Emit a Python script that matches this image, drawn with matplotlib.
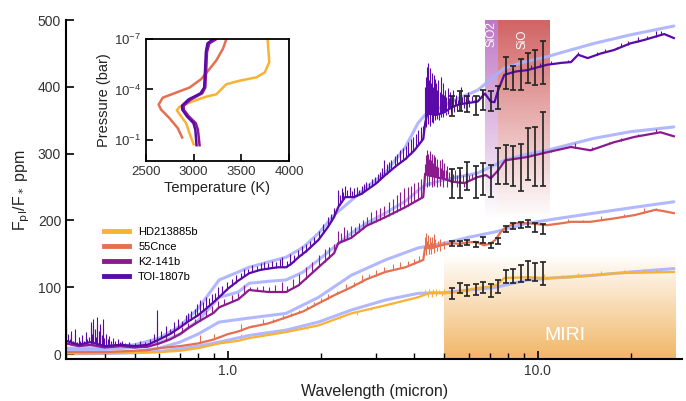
import numpy as np
import matplotlib
matplotlib.use("Agg")
import matplotlib.pyplot as plt
from matplotlib.ticker import NullFormatter, FixedLocator

plt.rcParams['font.family'] = ['Liberation Sans', 'DejaVu Sans']

# colours of the four planets
planets = ["HD213885b", "55Cnce", "K2-141b", "TOI-1807b"]
colors = {"HD213885b": "#f9b233", "55Cnce": "#e66f50",
          "K2-141b": "#8c1a8f", "TOI-1807b": "#5a0aa8"}
bb_color = "#a9b1ff"

# ---- emission spectra (micron, ppm) ----
toi_w = [0.30, 0.33, 0.36, 0.40, 0.45, 0.50, 0.55, 0.60, 0.65, 0.70, 0.75, 0.80,
         0.85, 0.90, 0.95, 1.00, 1.08, 1.17, 1.27, 1.35, 1.45, 1.54, 1.60, 1.69,
         1.80, 1.96, 2.10, 2.20, 2.27, 2.39, 2.55, 2.70, 3.00, 3.22, 3.50, 3.74,
         4.00, 4.27, 4.33, 4.40, 4.70, 5.00, 5.30, 5.60, 6.00, 6.40, 6.75, 7.05,
         7.25, 7.45, 7.80, 8.50, 9.25, 10.7, 12.0, 12.8, 13.5, 14.5, 16.0, 17.6,
         19.9, 22.0, 25.6, 27.5]
toi_v = [20, 14, 18, 12, 14, 12, 14, 22, 30, 40, 50, 58,
         68, 78, 88, 98, 110, 121, 126, 128, 130, 130, 135, 145,
         155, 171, 190, 205, 220, 235, 235, 240, 255, 268, 282, 292,
         305, 322, 345, 360, 358, 362, 370, 374, 376, 378, 390, 378,
         377, 395, 418, 423, 425, 433, 436, 437, 448, 443, 450, 455,
         465, 470, 479, 473]
toi_spike_w = [0.301, 0.304, 0.308, 0.312, 0.316, 0.320, 0.325, 0.330, 0.334, 0.338,
               0.343, 0.348, 0.352, 0.357, 0.361, 0.364, 0.367, 0.371, 0.375, 0.379,
               0.383, 0.387, 0.391, 0.395, 0.399, 0.404, 0.409, 0.414, 0.420, 0.426,
               0.432, 0.440, 0.448, 0.456, 0.465, 0.480, 0.50, 0.52, 0.54, 0.56,
               0.575, 0.59, 0.61, 0.63, 0.65, 0.67, 0.69, 0.71, 0.73, 0.745,
               0.76, 0.78, 0.795, 0.81, 0.83, 0.85, 0.87, 0.89, 0.91, 0.93,
               0.96, 0.99, 1.03, 1.06, 1.10, 1.13, 1.16, 1.20, 1.24, 1.28,
               1.31, 1.35, 1.39, 1.43, 1.47, 1.49, 1.55, 1.58, 1.63, 1.68,
               1.73, 1.78, 1.84, 1.90, 1.97, 2.03, 2.10, 2.15, 2.20, 2.27,
               2.30, 2.33, 2.36, 2.39, 2.43, 2.47, 2.51, 2.55, 2.60, 2.65,
               2.70, 2.75, 2.80, 2.86, 2.92, 2.98, 3.05, 3.10, 3.15, 3.20,
               3.25, 3.30, 3.37, 3.45, 3.52, 3.60, 3.68, 3.75, 3.82, 3.90,
               3.97, 4.05, 4.12, 4.20, 4.27,
               4.34, 4.37, 4.40, 4.43, 4.46, 4.49, 4.52, 4.55, 4.58, 4.61,
               4.64, 4.67, 4.70, 4.74, 4.78, 4.82, 4.86, 4.90, 4.94, 4.98,
               5.02, 5.07, 5.12, 5.17, 5.22, 5.28, 5.34, 5.40, 5.46, 5.52,
               5.58, 5.64, 5.70, 5.78, 5.86, 5.94, 6.02, 6.12, 6.22, 6.32,
               6.45, 6.60,
               4.36, 4.42, 4.48, 4.54, 4.60, 4.66, 4.72, 4.80, 4.88, 4.96,
               5.04, 5.14, 5.24, 5.36, 5.50, 5.65, 5.80, 6.00,
               7.9, 8.3, 8.8, 9.5, 10.2, 11.0, 12.5, 13.5, 15.5, 16.5,
               18.0, 18.5, 19.5, 21.0, 22.5, 24.0, 25.0]
toi_spike_v = [55, 30, 22, 35, 20, 38, 18, 26, 20, 28,
               19, 33, 22, 26, 48, 30, 52, 38, 25, 55,
               34, 45, 28, 52, 24, 30, 22, 27, 20, 24,
               19, 22, 18, 20, 17, 18, 16, 20, 18, 22,
               30, 66, 35, 42, 38, 48, 52, 50, 58, 62,
               65, 68, 75, 81, 78, 85, 84, 90, 92, 100,
               102, 108, 112, 118, 122, 128, 128, 133, 132, 136,
               138, 136, 140, 138, 142, 145, 140, 150, 148, 156,
               162, 165, 170, 176, 184, 195, 205, 210, 218, 245,
               238, 248, 242, 252, 245, 250, 244, 248, 250, 246,
               252, 255, 258, 256, 262, 265, 270, 272, 278, 290,
               285, 288, 290, 296, 300, 305, 308, 312, 318, 322,
               325, 330, 335, 340, 342,
               400, 415, 430, 435, 410, 428, 405, 420, 400, 418,
               395, 412, 405, 395, 410, 392, 415, 390, 405, 388,
               395, 385, 398, 383, 392, 385, 395, 382, 388, 380,
               392, 400, 385, 388, 382, 392, 380, 386, 380, 385,
               388, 395,
               340, 345, 342, 348, 346, 350, 352, 350, 355, 355,
               358, 360, 362, 362, 365, 365, 368, 370,
               425, 428, 430, 432, 436, 438, 440, 452, 452, 456,
               460, 466, 468, 475, 476, 484, 483]

k2_w = [0.30, 0.33, 0.36, 0.40, 0.45, 0.50, 0.55, 0.60, 0.65, 0.70, 0.75, 0.80,
        0.90, 0.936, 1.08, 1.17, 1.35, 1.54, 1.69, 1.96, 2.20, 2.27, 2.50, 2.80,
        3.22, 3.74, 4.27, 4.33, 4.40, 4.70, 5.00, 5.30, 5.80, 6.40, 6.80, 7.05,
        7.45, 7.85, 9.25, 10.7, 12.8, 14.8, 17.6, 20.5, 24.9, 27.5]
k2_v = [16, 12, 14, 10, 12, 10, 11, 16, 22, 30, 40, 48,
        62, 70, 82, 96, 93, 93, 103, 130, 151, 166, 174, 192,
        205, 220, 235, 270, 268, 265, 262, 258, 256, 265, 268, 263,
        275, 290, 295, 302, 310, 305, 317, 325, 332, 326]
k2_spike_w = [0.301, 0.312, 0.320, 0.338, 0.348, 0.361, 0.367, 0.379, 0.387, 0.395,
              0.409, 0.426, 0.45,
              0.59, 0.63, 0.67, 0.71, 0.745, 0.78, 0.81, 0.85, 0.89, 0.93, 0.97,
              1.03, 1.08, 1.13, 1.18, 1.24, 1.30, 1.36, 1.42, 1.49, 1.55,
              1.62, 1.70, 1.78, 1.87, 1.97, 2.05, 2.12, 2.20,
              2.27, 2.32, 2.37, 2.43, 2.50, 2.57, 2.65, 2.73, 2.82, 2.90,
              3.00, 3.10, 3.20, 3.30, 3.40, 3.50, 3.60, 3.70, 3.80, 3.90,
              4.00, 4.10, 4.20,
              4.34, 4.37, 4.40, 4.43, 4.46, 4.49, 4.52, 4.55, 4.58, 4.61,
              4.64, 4.67, 4.70, 4.74, 4.78, 4.82, 4.86, 4.90, 4.94, 4.98,
              5.04, 5.10, 5.17, 5.24, 5.32, 5.40, 5.50, 5.60, 5.72, 5.85,
              6.00, 6.15, 6.30,
              4.38, 4.46, 4.54, 4.62, 4.72, 4.84, 4.96, 5.10, 5.30, 5.50, 5.80,
              8.3, 9.5, 11.0, 13.2, 15.0, 17.0, 18.5, 21.0, 24.0]
k2_spike_v = [40, 28, 30, 22, 26, 38, 42, 45, 36, 40,
              20, 18, 16,
              50, 32, 36, 40, 46, 52, 65, 66, 72, 80, 82,
              88, 92, 104, 100, 100, 102, 100, 103, 108, 102,
              112, 120, 130, 138, 148, 158, 160, 165,
              185, 182, 190, 186, 192, 190, 196, 200, 205, 212,
              215, 218, 222, 228, 232, 238, 242, 248, 250, 252,
              256, 258, 262,
              285, 298, 306, 300, 292, 304, 290, 300, 286, 298,
              284, 295, 282, 292, 280, 290, 278, 292, 276, 286,
              275, 282, 272, 278, 270, 276, 268, 274, 268, 272,
              268, 270, 272,
              250, 252, 250, 252, 250, 252, 250, 250, 250, 250, 250,
              295, 300, 305, 316, 310, 318, 324, 330, 337]

cnc_w = [0.30, 0.40, 0.50, 0.55, 0.60, 0.70, 0.80, 0.90, 1.00, 1.08, 1.17, 1.35,
         1.54, 1.75, 1.96, 2.20, 2.50, 2.80, 3.22, 3.74, 4.27, 4.33, 4.50, 4.80,
         5.00, 5.30, 5.60, 5.90, 6.30, 6.70, 7.00, 7.30, 7.60, 7.90, 8.50, 9.30,
         10.7, 12.0, 12.8, 14.8, 17.6, 20.5, 24.0, 25.5, 27.5]
cnc_v = [3, 3, 5, 6, 9, 12, 16, 22, 30, 34, 40, 46,
         55, 64, 76, 88, 100, 112, 123, 130, 141, 160, 158, 162,
         164, 166, 165, 167, 168, 163, 165, 171, 183, 190, 196, 196,
         193, 196, 198, 198, 203, 208, 216, 214, 211]
cnc_spike_w = [0.59, 0.81, 0.90, 1.10, 1.20, 1.30, 1.40, 1.50, 1.60, 1.70,
               1.80, 1.90, 2.00, 2.10, 2.25, 2.40, 2.55, 2.70, 2.85, 3.00,
               3.20, 3.40, 3.60, 3.80, 4.00, 4.15,
               4.34, 4.37, 4.40, 4.43, 4.46, 4.49, 4.52, 4.55, 4.58, 4.61,
               4.64, 4.67, 4.70, 4.75, 4.80, 4.85, 4.90, 4.95, 5.00, 5.10,
               5.20, 5.30,
               4.36, 4.44, 4.52, 4.62, 4.72, 4.84, 5.00,
               12.5, 14.0, 16.0, 19.0, 22.0, 24.0]
cnc_spike_v = [24, 28, 30, 45, 44, 52, 52, 58, 62, 66,
               72, 78, 84, 90, 95, 105, 108, 118, 120, 126,
               130, 135, 138, 140, 143, 147,
               175, 181, 170, 178, 165, 176, 168, 175, 166, 180,
               165, 172, 163, 170, 165, 172, 163, 168, 170, 166,
               170, 168,
               148, 150, 150, 152, 155, 155, 158,
               202, 201, 207, 210, 218, 219]

hd_w = [0.30, 0.40, 0.50, 0.60, 0.70, 0.80, 0.936, 1.08, 1.17, 1.54, 1.96, 2.50,
        3.22, 4.10, 4.50, 5.00, 5.50, 6.40, 7.00, 7.40, 7.80, 9.30, 10.7, 12.8,
        17.6, 27.5]
hd_v = [1, 1.5, 2, 3, 5, 9, 16, 20, 24, 33, 43, 61,
        73, 85, 92, 91, 93, 99, 101, 104, 114, 115, 114, 115,
        121, 123]
hd_spike_w = [0.59, 0.81, 1.10, 1.30, 1.40, 1.60, 1.80, 2.00, 2.30, 2.60,
              2.90, 3.10, 3.40, 3.60, 3.90,
              4.34, 4.40, 4.46, 4.52, 4.58, 4.64, 4.70, 4.80, 4.90, 5.00,
              4.42, 4.55, 4.70, 4.90,
              8.8, 10.5, 12.0, 13.5, 15.0, 16.0, 17.5, 19.0, 20.0, 22.0,
              24.0, 25.0]
hd_spike_v = [10, 12, 30, 30, 32, 36, 38, 45, 52, 58,
              66, 70, 76, 80, 84,
              96, 92, 97, 93, 98, 94, 97, 96, 95, 97,
              86, 86, 87, 87,
              120, 120, 118, 122, 121, 124, 123, 126, 125, 127,
              128, 128]

# ---- blackbody curves ----
toi_bb_w = [0.30, 0.40, 0.50, 0.60, 0.70, 0.80, 0.936, 1.08, 1.17, 1.35, 1.54,
            1.75, 1.96, 2.20, 2.50, 2.80, 3.22, 3.74, 4.11, 4.33, 4.80, 5.5,
            6.4, 7.8, 9.0, 10.7, 12.5, 15.2, 20.0, 27.5]
toi_bb_v = [9, 10, 14, 24, 42, 68, 111, 123, 130, 138, 145,
            160, 181, 208, 230, 250, 271, 310, 346, 358, 368, 382,
            395, 428, 437, 445, 454, 465, 478, 491]
k2_bb_w = [0.30, 0.40, 0.50, 0.60, 0.70, 0.80, 0.936, 1.08, 1.17, 1.35, 1.54,
           1.75, 1.96, 2.20, 2.50, 2.80, 3.22, 3.74, 4.11, 4.33, 4.80, 5.5,
           6.4, 7.8, 9.0, 10.7, 12.5, 15.2, 20.0, 27.5]
k2_bb_v = [6, 7, 10, 17, 30, 50, 85, 93, 106, 109, 111,
           123, 141, 160, 181, 196, 211, 229, 245, 253, 259, 265,
           271, 290, 298, 305, 313, 323, 333, 340]
cnc_bb_w = [0.30, 0.40, 0.50, 0.60, 0.70, 0.80, 0.936, 1.17, 1.54, 1.96, 2.50,
            3.22, 4.11, 5.0, 6.0, 7.3, 9.3, 12.0, 15.2, 20.0, 27.5]
cnc_bb_v = [1, 2, 4, 9, 18, 30, 48, 54, 61, 85, 118,
            141, 159, 166, 175, 183, 196, 204, 211, 219, 228]
hd_bb_w = [0.30, 0.40, 0.50, 0.60, 0.70, 0.80, 0.936, 1.17, 1.54, 1.96, 2.50,
           3.22, 4.11, 5.0, 6.0, 7.3, 9.3, 12.0, 15.2, 20.0, 27.5]
hd_bb_v = [0.5, 1, 2, 4, 8, 12, 18, 28, 36, 48, 66,
           81, 91, 92, 96, 100, 111, 115, 118, 123, 128]

# ---- MIRI data points ----
obs_w = [5.29, 5.60, 5.93, 6.30, 6.66, 7.05, 7.45, 7.87, 8.33, 8.80, 9.29, 9.80, 10.38]
toi_obs = [371, 379, 375, 372, 381, 379, 384, 421, 413, 418, 428, 429, 436]
toi_err = [15, 15, 12, 14, 15, 15, 17, 24, 18, 23, 23, 26, 32]
k2_obs = [255, 256, 266, 257, 262, 259, 282, 284, 281, 279, 300, 296, 307]
k2_err = [22, 22, 21, 24, 24, 24, 27, 29, 30, 35, 39, 44, 56]
cnc_obs = [166, 165, 167, 164, 171, 163, 170, 187, 192, 193, 195, 190, 188]
cnc_err = [3.5, 3.7, 3.7, 4, 4, 4, 4.5, 4.7, 4.5, 4.5, 5, 6.8, 7.5]
hd_obs = [91, 99, 95, 97, 100, 95, 101, 116, 117, 121, 125, 123, 121]
hd_err = [8.7, 8.2, 8.2, 8.7, 8.7, 10, 10, 10, 10, 12.5, 14, 13.5, 17]

# ---- P-T profiles for inset ----
hd_T = [3775, 3793, 3747, 3659, 3483, 3343, 3290, 3238, 3132, 2992, 2851, 2823,
        2869, 2921, 2957, 2999]
hd_logP = [-7, -5.63, -5.02, -4.72, -4.52, -4.31, -4.01, -3.71, -3.57, -3.30,
           -2.96, -2.76, -2.39, -1.99, -1.38, -0.74]
cnc_T = [3343, 3308, 3238, 3167, 3080, 2957, 2816, 2676, 2633, 2658, 2746, 2834, 2879]
cnc_logP = [-7, -6.43, -5.73, -5.22, -4.62, -4.11, -3.81, -3.51, -3.10, -2.80,
            -2.29, -1.69, -1.14]
k2_T = [3240, 3165, 3140, 3132, 3122, 3090, 2970, 2896, 2895, 2950, 3022, 3045, 3062]
toi_T = [3205, 3145, 3128, 3120, 3110, 3072, 2945, 2878, 2880, 2930, 2998, 3018, 3030]
rock_logP = [-7, -6.74, -6.23, -5.22, -4.11, -3.77, -3.40, -3.04, -2.80, -2.39,
             -1.99, -1.59, -0.68]


def gradient_band(ax, x0, x1, y0, y1, color, a_bottom, a_top, n=80):
    edges = np.linspace(y0, y1, n + 1)
    alphas = np.linspace(a_bottom, a_top, n)
    for i in range(n):
        ax.fill_between([x0, x1], edges[i], edges[i + 1], color=color,
                        alpha=alphas[i], lw=0, antialiased=False, zorder=0)


fig = plt.figure(figsize=(6.86, 4.01), dpi=100)
ax = fig.add_axes([0.0962, 0.1035, 0.8985, 0.8466])
ax.set_xscale('log')
ax.set_xlim(0.3, 29.3)
ax.set_ylim(-8, 500)

# shaded regions
gradient_band(ax, 5.0, 27.9, -8, 150, "#f0b25e", 0.95, 0.0)
ax.text(12.2, 28, "MIRI", color="white", fontsize=14, ha="center", va="center")
gradient_band(ax, 6.77, 7.47, 200, 500, "#bf78c6", 0.0, 1.0)
gradient_band(ax, 7.47, 10.95, 200, 500, "#d26464", 0.0, 1.0)
ax.text(7.08, 499, "SiO2", color="white", fontsize=8.5, rotation=90,
        ha="center", va="top")
ax.text(8.95, 486, "SiO", color="white", fontsize=8.5, rotation=90,
        ha="center", va="top")

spectra = {
    "HD213885b": (hd_w, hd_v, hd_spike_w, hd_spike_v, hd_bb_w, hd_bb_v,
                  hd_obs, hd_err),
    "55Cnce": (cnc_w, cnc_v, cnc_spike_w, cnc_spike_v, cnc_bb_w, cnc_bb_v,
               cnc_obs, cnc_err),
    "K2-141b": (k2_w, k2_v, k2_spike_w, k2_spike_v, k2_bb_w, k2_bb_v,
                k2_obs, k2_err),
    "TOI-1807b": (toi_w, toi_v, toi_spike_w, toi_spike_v, toi_bb_w, toi_bb_v,
                  toi_obs, toi_err),
}

for name in planets:
    w, v, sw, sv, bw, bv, obs, err = spectra[name]
    ax.plot(bw, bv, color=bb_color, lw=2.2, alpha=0.9, zorder=1,
            solid_capstyle='round')
for name in planets:
    w, v, sw, sv, bw, bv, obs, err = spectra[name]
    ax.plot(w, v, color=colors[name], lw=1.6, zorder=2, label=name)
    base = np.interp(np.log10(sw), np.log10(w), v)
    ax.vlines(sw, base, sv, color=colors[name], lw=0.8, zorder=2)
    ax.errorbar(obs_w, obs, yerr=err, fmt='none', ecolor='#222222',
                elinewidth=1.2, capsize=2.5, capthick=1.2, zorder=4)

ax.spines['top'].set_visible(False)
ax.spines['right'].set_visible(False)
ax.spines['left'].set_linewidth(1.5)
ax.spines['bottom'].set_linewidth(1.5)
ax.set_xticks([1.0, 10.0])
ax.set_xticklabels(["1.0", "10.0"])
ax.xaxis.set_minor_formatter(NullFormatter())
ax.set_yticks([0, 100, 200, 300, 400, 500])
ax.tick_params(which='major', direction='in', length=6, width=1.2,
               labelsize=10, labelcolor='#333333')
ax.tick_params(which='minor', direction='in', length=4, width=1.0)
ax.set_xlabel("Wavelength (micron)", fontsize=11.5, color='#222222')
ax.set_ylabel(r"F$_{\rm pl}$/F$_*$ ppm", fontsize=11.5, color='#222222')

handles, labels = ax.get_legend_handles_labels()
leg = ax.legend(handles, labels, loc='upper left', bbox_to_anchor=(0.045, 0.42),
                frameon=False, fontsize=8, handlelength=2.3, labelspacing=0.45)
for line in leg.get_lines():
    line.set_linewidth(3.5)

# inset with P-T profiles
ins = fig.add_axes([0.2128, 0.5985, 0.2085, 0.3042])
ins.plot(hd_T, 10 ** np.array(hd_logP), color=colors["HD213885b"], lw=1.8)
ins.plot(cnc_T, 10 ** np.array(cnc_logP), color=colors["55Cnce"], lw=1.8)
ins.plot(k2_T, 10 ** np.array(rock_logP), color=colors["K2-141b"], lw=1.8)
ins.plot(toi_T, 10 ** np.array(rock_logP), color=colors["TOI-1807b"], lw=1.8)
ins.set_yscale('log')
ins.set_ylim(10 ** 0.26, 1e-7)
ins.set_xlim(2500, 4000)
ins.yaxis.set_major_locator(FixedLocator([1e-7, 1e-4, 1e-1]))
ins.yaxis.set_minor_locator(FixedLocator([]))
ins.set_xticks([2500, 3000, 3500, 4000])
ins.tick_params(direction='in', length=5, width=1.2, labelsize=9.5,
                labelcolor='#333333')
for s in ins.spines.values():
    s.set_linewidth(1.3)
ins.set_xlabel("Temperature (K)", fontsize=10.5, color='#222222', labelpad=2)
ins.set_ylabel("Pressure (bar)", fontsize=10.5, color='#222222', labelpad=2)

fig.savefig("out.png", dpi=100)
